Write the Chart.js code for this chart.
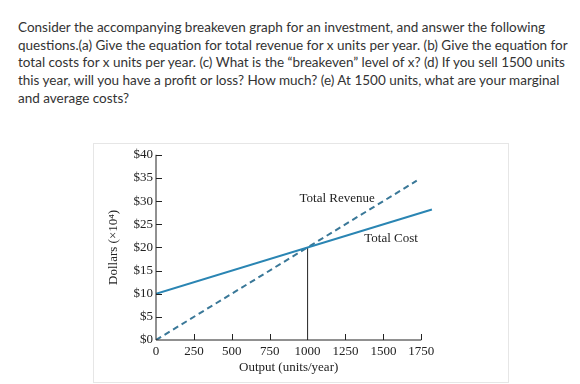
<!DOCTYPE html>
<html>
<head>
<meta charset="utf-8">
<script src="https://cdn.jsdelivr.net/npm/chart.js@4"></script>
<style>
  html, body { margin: 0; padding: 0; background: #fff; }
  body { width: 580px; height: 384px; position: relative; overflow: hidden; }
  #question {
    position: absolute; left: 18px; top: 19px; margin: 0;
    font-family: Lato, "Open Sans", sans-serif; font-size: 13.5px; line-height: 17.7px;
    color: #333; white-space: pre;
  }
  #frame {
    position: absolute; left: 93px; top: 143px; width: 414px; height: 238px;
    border: 1px solid #e6e6e6;
  }
</style>
</head>
<body>
<p id="question">Consider the accompanying breakeven graph for an investment, and answer the following
questions.(a) Give the equation for total revenue for x units per year. (b) Give the equation for
total costs for x units per year. (c) What is the “breakeven” level of x? (d) If you sell 1500 units
this year, will you have a profit or loss? How much? (e) At 1500 units, what are your marginal
and average costs?</p>
<div id="frame"><canvas id="chart" width="414" height="238"></canvas></div>
<script>
// values (dollars in units of 10^4)
const costX = [0, 1820];
const costY = [10, 28.2];
const revenueX = [0, 1720];
const revenueY = [0, 34.4];
const breakevenX = [1000, 1000];
const breakevenY = [0, 20];
const xTicks = [0, 250, 500, 750, 1000, 1250, 1500, 1750];
const yTicks = [0, 5, 10, 15, 20, 25, 30, 35, 40];

const pts = (xs, ys) => xs.map((x, i) => ({ x, y: ys[i] }));
const serif = 'Liberation Serif, Times New Roman, serif';

// axis lines, inward tick marks, curve labels and x title
const extras = {
  id: 'extras',
  afterDraw(chart) {
    const { ctx, scales: { x, y } } = chart;
    const x0 = x.getPixelForValue(0), x1 = x.getPixelForValue(1750);
    const y0 = y.getPixelForValue(0), y1 = y.getPixelForValue(40);
    ctx.save();
    ctx.strokeStyle = '#222';
    ctx.lineWidth = 1;
    ctx.beginPath();
    ctx.moveTo(x0, y1); ctx.lineTo(x0, y0); ctx.lineTo(x1, y0);
    yTicks.forEach(v => {
      if (v === 0) return;
      const py = Math.round(y.getPixelForValue(v)) + 0.5;
      ctx.moveTo(x0, py); ctx.lineTo(x0 + 6, py);
    });
    xTicks.forEach(v => {
      if (v === 0 || v === 1000) return;
      const px = Math.round(x.getPixelForValue(v)) + 0.5;
      ctx.moveTo(px, y0); ctx.lineTo(px, y0 - 6);
    });
    ctx.stroke();

    ctx.fillStyle = '#222';
    ctx.font = '13px ' + serif;
    ctx.textBaseline = 'middle';
    ctx.textAlign = 'center';
    ctx.fillText('Total Revenue', x.getPixelForValue(1195), y.getPixelForValue(30.6));
    ctx.textAlign = 'left';
    ctx.fillText('Total Cost', x.getPixelForValue(1374), y.getPixelForValue(21.9));
    ctx.textAlign = 'center';
    ctx.fillText('Output (units/year)', x.getPixelForValue(875), y0 + 28);
    ctx.restore();
  }
};

new Chart(document.getElementById('chart'), {
  type: 'scatter',
  data: {
    datasets: [
      { label: 'Total Cost', data: pts(costX, costY), showLine: true,
        borderColor: '#2a85b3', borderWidth: 2, pointRadius: 0 },
      { label: 'Total Revenue', data: pts(revenueX, revenueY), showLine: true,
        borderColor: '#3a7898', borderWidth: 2, borderDash: [6, 4], pointRadius: 0 },
      { label: 'Breakeven', data: pts(breakevenX, breakevenY), showLine: true,
        borderColor: '#222', borderWidth: 1, pointRadius: 0 }
    ]
  },
  options: {
    responsive: false,
    animation: false,
    layout: { padding: { top: 8, right: 67, left: 0, bottom: 0 } },
    plugins: { legend: { display: false }, tooltip: { enabled: false } },
    scales: {
      x: {
        type: 'linear', min: 0, max: 1880,
        afterBuildTicks: s => { s.ticks = xTicks.map(v => ({ value: v })); },
        afterFit: s => { s.height = 42; },
        grid: { display: false, drawTicks: false },
        border: { display: false },
        ticks: { padding: 4, color: '#222', font: { family: serif, size: 13 },
                 callback: v => String(v) }
      },
      y: {
        min: 0, max: 40,
        afterBuildTicks: s => { s.ticks = yTicks.map(v => ({ value: v })); },
        afterFit: s => { s.width = 62; },
        grid: { display: false, drawTicks: false },
        border: { display: false },
        ticks: { padding: 3, color: '#222', font: { family: serif, size: 13 },
                 callback: v => '$' + v },
        title: { display: true, text: 'Dollars (×10⁴)', color: '#222',
                 font: { family: serif, size: 13 }, padding: { top: 12 } }
      }
    }
  },
  plugins: [extras]
});
</script>
</body>
</html>
